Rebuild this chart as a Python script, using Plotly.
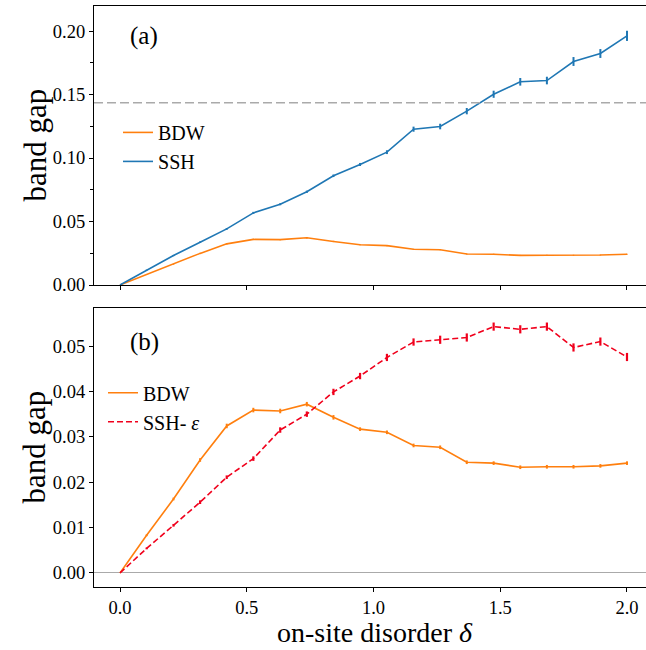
import plotly.graph_objects as go
from plotly.subplots import make_subplots

# on-site disorder values
delta = [0.0, 0.105, 0.211, 0.316, 0.421, 0.526, 0.632, 0.737, 0.842, 0.947,
         1.053, 1.158, 1.263, 1.368, 1.474, 1.579, 1.684, 1.789, 1.895, 2.0]

bdw = [0.0, 0.0083, 0.0163, 0.0249, 0.0324, 0.0359, 0.0357, 0.0372, 0.0343, 0.0317,
       0.0310, 0.0281, 0.0277, 0.0244, 0.0242, 0.0233, 0.0234, 0.0234, 0.0236, 0.0242]
bdw_err = [0.0, 0.0002, 0.0003, 0.0004, 0.0005, 0.0005, 0.0005, 0.0005, 0.0005, 0.0004,
           0.0004, 0.0004, 0.0004, 0.0004, 0.0004, 0.0004, 0.0004, 0.0004, 0.0004, 0.0004]

ssh = [0.0, 0.0118, 0.0232, 0.0337, 0.0442, 0.0568, 0.0636, 0.0734, 0.0860, 0.0949,
       0.1046, 0.1227, 0.1248, 0.1369, 0.1502, 0.1600, 0.1610, 0.1760, 0.1823, 0.1962]
ssh_err = [0.0, 0.0003, 0.0005, 0.0006, 0.0007, 0.0008, 0.0008, 0.0009, 0.0010, 0.0012,
           0.0015, 0.0020, 0.0022, 0.0025, 0.0028, 0.0030, 0.0030, 0.0035, 0.0035, 0.0040]

ssh_eps = [0.0, 0.0054, 0.0105, 0.0156, 0.0211, 0.0252, 0.0315, 0.0350, 0.0399, 0.0434,
           0.0475, 0.0509, 0.0514, 0.0519, 0.0543, 0.0537, 0.0543, 0.0497, 0.0510, 0.0476]
ssh_eps_err = [0.0, 0.0002, 0.0003, 0.0004, 0.0004, 0.0005, 0.0006, 0.0006, 0.0007, 0.0007,
               0.0008, 0.0008, 0.0009, 0.0009, 0.0009, 0.0009, 0.0009, 0.0009, 0.0009, 0.0009]

ref_gap = 0.1435

ORANGE = '#ff7f0e'
BLUE = '#1f77b4'
RED = '#f0001c'
FONT = 'Liberation Serif'

fig = make_subplots(rows=2, cols=1, shared_xaxes=True)

def err(vals, color, thick):
    return dict(type='data', array=vals, visible=True, color=color, thickness=thick, width=0)

# panel (a)
fig.add_trace(go.Scatter(x=delta, y=bdw, mode='lines', name='BDW',
                         line=dict(color=ORANGE, width=1.6),
                         error_y=err(bdw_err, ORANGE, 1.5), legend='legend'), 1, 1)
fig.add_trace(go.Scatter(x=delta, y=ssh, mode='lines', name='SSH',
                         line=dict(color=BLUE, width=1.6),
                         error_y=err(ssh_err, BLUE, 2), legend='legend'), 1, 1)

# panel (b)
fig.add_trace(go.Scatter(x=delta, y=bdw, mode='lines', name='BDW',
                         line=dict(color=ORANGE, width=1.6),
                         error_y=err(bdw_err, ORANGE, 2), legend='legend2'), 2, 1)
fig.add_trace(go.Scatter(x=delta, y=ssh_eps, mode='lines', name='SSH- <i>ε</i>',
                         line=dict(color=RED, width=1.6, dash='6px,3px'),
                         error_y=err(ssh_eps_err, RED, 2.2), legend='legend2'), 2, 1)

fig.add_hline(y=ref_gap, line=dict(color='#aaaaaa', width=1.5, dash='9px,4px'), row=1, col=1)

axis_common = dict(showline=True, linecolor='black', linewidth=1.2, ticks='outside',
                   ticklen=4, tickwidth=1, tickcolor='black', showgrid=False,
                   tickfont=dict(family=FONT, size=18.5, color='black'))

fig.update_xaxes(**axis_common, mirror=True, range=[-0.1026, 2.075],
                 tickvals=[0, 0.5, 1.0, 1.5, 2.0], zeroline=False)
fig.update_xaxes(showticklabels=False, row=1, col=1)
fig.update_xaxes(tickformat='.1f', row=2, col=1)

fig.update_yaxes(**axis_common, mirror=False, zeroline=False)
fig.update_yaxes(range=[0, 0.2197], tickvals=[0, 0.05, 0.10, 0.15, 0.20], tickformat='.2f',
                 minor=dict(tickvals=[0.025, 0.075, 0.125, 0.175], ticks='outside',
                            ticklen=3, tickcolor='black'),
                 domain=[0.5198, 1.0], row=1, col=1)
fig.update_yaxes(range=[-0.0031, 0.0584], dtick=0.01, tickformat='.2f',
                 zeroline=True, zerolinecolor='#aaaaaa', zerolinewidth=1,
                 domain=[0.0, 0.4802], row=2, col=1)

legend_common = dict(bgcolor='rgba(0,0,0,0)', font=dict(family=FONT, size=20, color='black'),
                     itemwidth=30, tracegroupgap=0, xanchor='left', yanchor='top')

fig.update_layout(
    width=646, height=650,
    margin=dict(l=94, r=0, t=6, b=63),
    plot_bgcolor='white', paper_bgcolor='white',
    font=dict(family=FONT, color='black'),
    legend=dict(**legend_common, x=0.0435, y=0.816),
    legend2=dict(**legend_common, x=0.0163, y=0.368),
    annotations=[
        dict(text='(a)', x=(128 - 94) / 552, y=1 - (36 - 6) / 581, xref='paper', yref='paper',
             showarrow=False, xanchor='left', yanchor='middle', font=dict(family=FONT, size=25)),
        dict(text='(b)', x=(128 - 94) / 552, y=1 - (342 - 6) / 581, xref='paper', yref='paper',
             showarrow=False, xanchor='left', yanchor='middle', font=dict(family=FONT, size=25)),
        dict(text='band gap', x=(35 - 94) / 552, y=0.76, xref='paper', yref='paper',
             xanchor='center', yanchor='middle',
             showarrow=False, textangle=-90, font=dict(family=FONT, size=31)),
        dict(text='band gap', x=(35 - 94) / 552, y=0.24, xref='paper', yref='paper',
             xanchor='center', yanchor='middle',
             showarrow=False, textangle=-90, font=dict(family=FONT, size=31)),
        dict(text='on-site disorder <i>δ</i>', x=(375 - 94) / 552, y=-(632 - 587) / 581,
             xref='paper', yref='paper', showarrow=False, xanchor='center', yanchor='middle',
             font=dict(family=FONT, size=28)),
    ],
)

fig.write_html("out.html", config={'displayModeBar': False},
               post_script="document.body.style.margin='0px';document.body.style.overflow='hidden';")
